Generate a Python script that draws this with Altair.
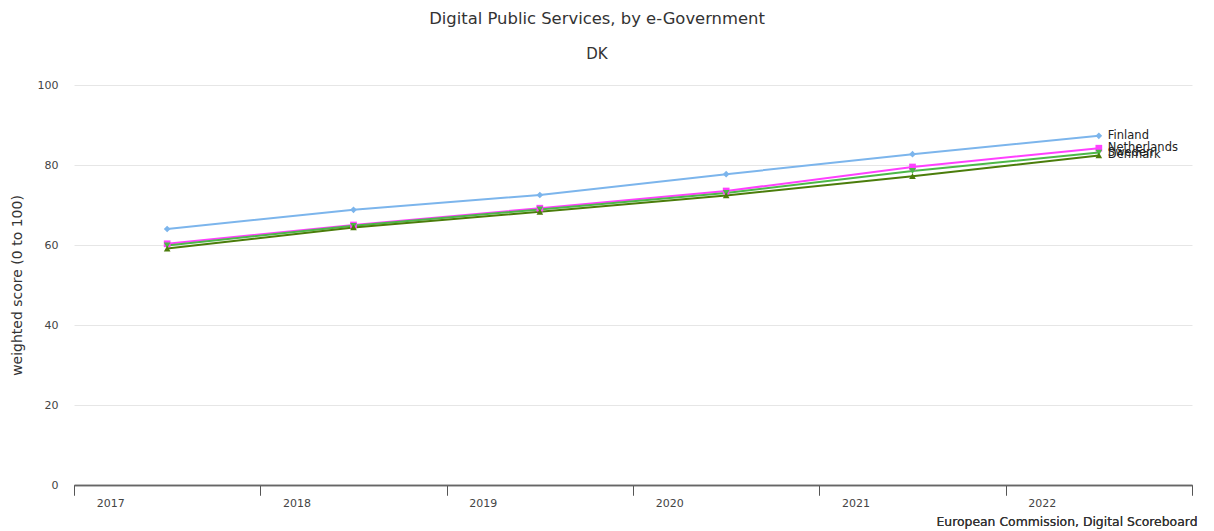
import altair as alt
import pandas as pd

years = ["2017", "2018", "2019", "2020", "2021", "2022"]
countries = ["Finland", "Netherlands", "Sweden", "Denmark"]
finland = [64.0, 68.8, 72.5, 77.7, 82.7, 87.3]
netherlands = [60.3, 65.0, 69.2, 73.5, 79.5, 84.2]
sweden = [59.9, 64.8, 68.9, 73.0, 78.5, 83.1]
denmark = [59.1, 64.4, 68.3, 72.4, 77.2, 82.4]
colors = ["#7cb5ec", "#ff40ff", "#4cb848", "#4b7d0b"]
shapes = ["diamond", "square", "triangle-down", "triangle-up"]

series = {"Finland": finland, "Netherlands": netherlands, "Sweden": sweden, "Denmark": denmark}
rows = []
for c in countries:
    for y, v in zip(years, series[c]):
        rows.append({"year": y, "country": c, "value": v})
df = pd.DataFrame(rows)
last = df[df["year"] == years[-1]]

FONT = "DejaVu Sans"

x_scale = alt.Scale(type="band", paddingInner=0, paddingOuter=0)

axis_ticks = alt.Axis(
    orient="bottom",
    title="European Commission, Digital Scoreboard",
    titleX=1123,
    titleY=36,
    titleAlign="right",
    titleAnchor="end",
    titleBaseline="middle",
    titleFont=FONT,
    titleFontSize=12.4,
    titleFontWeight="normal",
    titleColor="#333333",
    tickBand="extent",
    tickSize=10,
    tickColor="#555555",
    domainColor="#666666",
    domainWidth=1.5,
    labels=False,
    grid=False,
)
axis_labels = alt.Axis(
    orient="bottom",
    title="",
    ticks=False,
    domain=False,
    grid=False,
    tickOffset=-57,
    labelFont=FONT,
    labelFontSize=11,
    labelColor="#444444",
    labelPadding=12,
    labelAngle=0,
)

x_a = alt.X("year:N", sort=years, bandPosition=0.5, scale=x_scale, axis=axis_ticks)
x_b = alt.X("year:N", sort=years, bandPosition=0.5, scale=x_scale, axis=axis_labels)

y_enc = alt.Y(
    "value:Q",
    scale=alt.Scale(domain=[0, 100], nice=False),
    axis=alt.Axis(
        title="weighted score (0 to 100)",
        titleFont=FONT,
        titleFontSize=14,
        titleFontWeight="normal",
        titleColor="#333333",
        titleX=-57,
        titleY=200,
        titleAlign="center",
        titleBaseline="middle",
        titleAngle=270,
        values=[0, 20, 40, 60, 80, 100],
        labelFont=FONT,
        labelFontSize=11,
        labelColor="#444444",
        labelPadding=16,
        ticks=False,
        domain=False,
        grid=True,
        gridColor="#e6e6e6",
    ),
)
color_enc = alt.Color("country:N", scale=alt.Scale(domain=countries, range=colors), legend=None)
shape_enc = alt.Shape("country:N", scale=alt.Scale(domain=countries, range=shapes), legend=None)

base = alt.Chart(df)
lines = base.mark_line(strokeWidth=2).encode(x=x_a, y=y_enc, color=color_enc, detail="country:N")
points = base.mark_point(filled=True, size=45, opacity=1).encode(x=x_a, y=y_enc, color=color_enc, shape=shape_enc)
labels = alt.Chart(last).mark_text(
    align="left", baseline="middle", dx=9, font=FONT, fontSize=11.5, color="#222222"
).encode(x=x_b, y=y_enc, text="country:N")

chart = alt.layer(lines, points, labels).resolve_axis(x="independent").properties(
    width=1118,
    height=400,
    autosize=alt.AutoSizeParams(type="none"),
    padding={"left": 66, "top": 77, "right": 14, "bottom": 44},
    title=alt.TitleParams(
        text="Digital Public Services, by e-Government",
        subtitle="DK",
        anchor="middle",
        dx=-36,
        offset=17,
        font=FONT,
        fontSize=16.4,
        fontWeight="normal",
        color="#333333",
        subtitleFont=FONT,
        subtitleFontSize=15,
        subtitleColor="#333333",
        subtitlePadding=20,
    ),
).configure_view(stroke=None)

chart.save("out.html", embed_options={"renderer": "svg", "actions": False})
